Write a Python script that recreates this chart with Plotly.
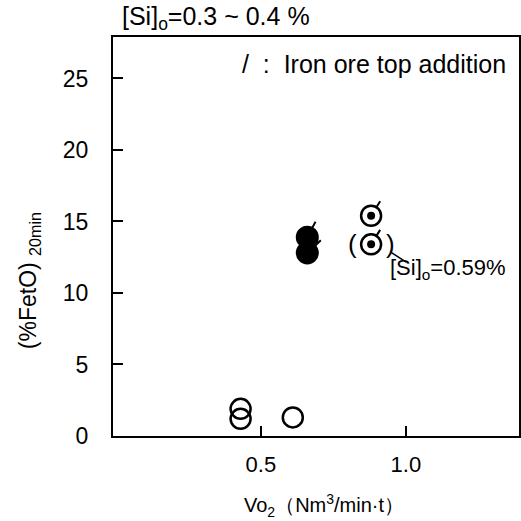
import plotly.graph_objects as go

# data
open_x = [0.43, 0.43, 0.61]
open_y = [1.9, 1.2, 1.3]
filled_x = [0.66, 0.66]
filled_y = [13.9, 12.8]
dot_x = [0.88, 0.88]
dot_y = [15.4, 13.4]
x_ticks = [0.5, 1.0]
x_tick_labels = ["0.5", "1.0"]
y_ticks = [0, 5, 10, 15, 20, 25]
y_tick_labels = ["0", "5", "10", "15", "20", "25"]

NARROW = "Liberation Sans Narrow, Arial Narrow, Liberation Sans, Arial"
SANS = "Liberation Sans, Arial"

fig = go.Figure()
fig.add_trace(go.Scatter(x=open_x, y=open_y, mode="markers",
                         marker=dict(symbol="circle-open", size=20, color="black",
                                     line=dict(width=2.5, color="black")),
                         showlegend=False, hoverinfo="skip"))
fig.add_trace(go.Scatter(x=filled_x, y=filled_y, mode="markers",
                         marker=dict(symbol="circle", size=23, color="black",
                                     line=dict(width=0)),
                         showlegend=False, hoverinfo="skip"))
fig.add_trace(go.Scatter(x=dot_x, y=dot_y, mode="markers",
                         marker=dict(symbol="circle-open", size=20, color="black",
                                     line=dict(width=2.5, color="black")),
                         showlegend=False, hoverinfo="skip"))
fig.add_trace(go.Scatter(x=dot_x, y=dot_y, mode="markers",
                         marker=dict(symbol="circle", size=8, color="black"),
                         showlegend=False, hoverinfo="skip"))

annotations = []
# iron ore top addition slashes
slash_style = [(9, -17, 10), (15, -14, 11)]
for i, (px, py) in enumerate(zip(filled_x, filled_y)):
    dx, dy, so = slash_style[i]
    annotations.append(dict(x=px, y=py, xref="x", yref="y", text="", showarrow=True,
                            arrowhead=0, arrowwidth=2, arrowcolor="black",
                            ax=dx, ay=dy, standoff=so))
for px, py in zip(dot_x, dot_y):
    annotations.append(dict(x=px, y=py, xref="x", yref="y", text="", showarrow=True,
                            arrowhead=0, arrowwidth=2, arrowcolor="black",
                            ax=10, ay=-16, standoff=10))

# parentheses around the [Si]o=0.59% point
annotations.append(dict(x=dot_x[1], y=dot_y[1], xref="x", yref="y", text="(",
                        showarrow=False, xshift=-19, yshift=0,
                        font=dict(size=26, family=SANS, color="black")))
annotations.append(dict(x=dot_x[1], y=dot_y[1], xref="x", yref="y", text=")",
                        showarrow=False, xshift=19, yshift=0,
                        font=dict(size=26, family=SANS, color="black")))
annotations.append(dict(x=dot_x[1], y=dot_y[1], xref="x", yref="y", text="",
                        showarrow=True, arrowhead=0, arrowwidth=1.5, arrowcolor="black",
                        xshift=20, yshift=-8, ax=17, ay=11, standoff=0))
annotations.append(dict(x=dot_x[1], y=dot_y[1], xref="x", yref="y",
                        text="[Si]<sub>o</sub>=0.59%", showarrow=False,
                        xshift=77, yshift=-25,
                        font=dict(size=22, family=NARROW, color="black")))

# legend text and title
annotations.append(dict(x=0.313, y=0.932, xref="paper", yref="paper", xanchor="left",
                        yanchor="middle", text="/  :  Iron ore top addition",
                        showarrow=False, font=dict(size=25, family=SANS, color="black")))
annotations.append(dict(x=0.018, y=1.048, xref="paper", yref="paper", xanchor="left",
                        yanchor="middle", text="[Si]<sub>o</sub>=0.3 ~ 0.4 %",
                        showarrow=False, font=dict(size=25, family=NARROW, color="black")))
# axis titles
annotations.append(dict(x=-0.205, y=0.39, xref="paper", yref="paper", xanchor="center",
                        yanchor="middle", textangle=-90,
                        text="(%FetO) <sub>20min</sub>",
                        showarrow=False, font=dict(size=23, family=SANS, color="black")))
annotations.append(dict(x=0.52, y=-0.173, xref="paper", yref="paper", xanchor="center",
                        yanchor="middle", text="Vo<sub>2</sub>\uff08Nm<sup>3</sup>/min\u00b7t\uff09",
                        showarrow=False, font=dict(size=20, family=SANS, color="black")))

fig.update_layout(
    width=521, height=521,
    margin=dict(l=113, r=2, t=37, b=85, autoexpand=False),
    paper_bgcolor="white", plot_bgcolor="white",
    annotations=annotations,
    xaxis=dict(range=[-0.01, 1.39], tickvals=x_ticks, ticktext=x_tick_labels,
               ticks="inside", ticklen=10, tickwidth=1.5, tickcolor="black",
               showline=True, linecolor="black", linewidth=2, mirror=True,
               showgrid=False, zeroline=False, ticklabelstandoff=8, automargin=False,
               tickfont=dict(size=22, family=NARROW, color="black")),
    yaxis=dict(range=[0, 27.9], tickvals=y_ticks, ticktext=y_tick_labels,
               ticks="inside", ticklen=10, tickwidth=1.5, tickcolor="black",
               showline=True, linecolor="black", linewidth=2, mirror=True,
               showgrid=False, zeroline=False, ticklabelstandoff=18, automargin=False,
               tickfont=dict(size=23, family=NARROW, color="black")),
)

fig.write_html("out.html", config={"displayModeBar": False},
               post_script="document.body.style.margin='0';document.body.style.overflow='hidden';")
